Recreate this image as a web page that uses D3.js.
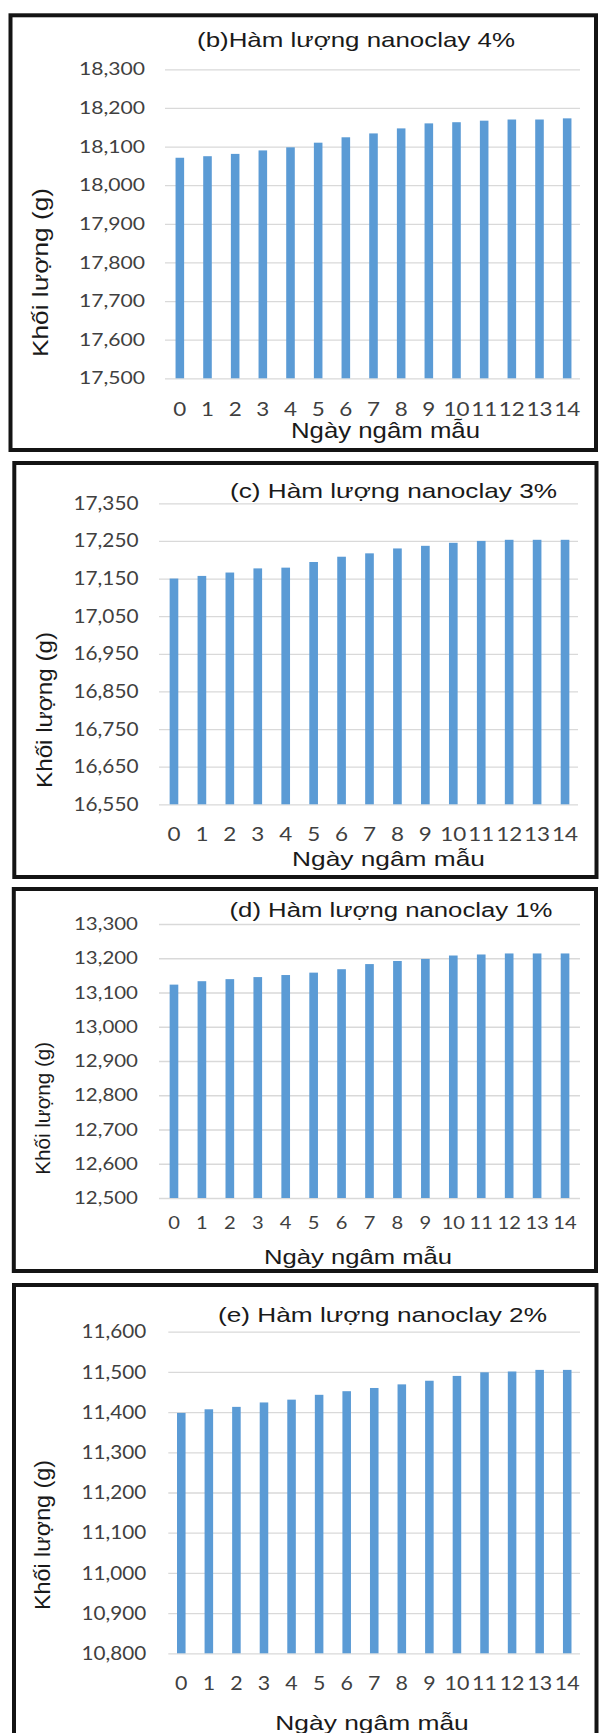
<!DOCTYPE html>
<html>
<head>
<meta charset="utf-8">
<script src="https://cdn.jsdelivr.net/npm/d3@7"></script>
<style>
  html, body { margin: 0; padding: 0; background: #fff; }
  svg { display: block; }
</style>
</head>
<body>
<script>
// Soaking days (x categories)
const days = ["0", "1", "2", "3", "4", "5", "6", "7", "8", "9", "10", "11", "12", "13", "14"];

// Sample mass (g) per soaking day, one series per nanoclay content
const massB = [18071, 18075, 18081, 18090, 18098, 18110, 18124, 18134, 18147, 18160, 18163, 18167, 18170, 18170, 18173];
const massC = [17150, 17157, 17166, 17177, 17179, 17194, 17208, 17217, 17230, 17237, 17245, 17250, 17253, 17253, 17253];
const massD = [13123, 13133, 13139, 13145, 13151, 13158, 13168, 13183, 13192, 13198, 13208, 13211, 13214, 13214, 13214];
const massE = [11398, 11407, 11413, 11424, 11431, 11443, 11452, 11460, 11469, 11478, 11490, 11499, 11501, 11505, 11505];

// Value-axis tick labels
const ticksB = [17500, 17600, 17700, 17800, 17900, 18000, 18100, 18200, 18300];
const ticksC = [16550, 16650, 16750, 16850, 16950, 17050, 17150, 17250, 17350];
const ticksD = [12500, 12600, 12700, 12800, 12900, 13000, 13100, 13200, 13300];
const ticksE = [10800, 10900, 11000, 11100, 11200, 11300, 11400, 11500, 11600];

// Texts
const titleB = "(b)Hàm lượng nanoclay 4%";
const titleC = "(c) Hàm lượng nanoclay 3%";
const titleD = "(d) Hàm lượng nanoclay 1%";
const titleE = "(e) Hàm lượng nanoclay 2%";
const yLabel = "Khối lượng (g)";
const xLabel = "Ngày ngâm mẫu";

// Layout of each framed panel
const layouts = [
  { frame: [10.5, 15.3, 596, 450], left: 165, right: 580, bandL: 166, bandR: 581, top: 69.3, bottom: 378.3,
    title: { cx: 356, y: 46.7, w: 318, fs: 21 },
    xTitle: { cx: 385.5, y: 438, w: 189, fs: 22 },
    yTitle: { x: 48, cy: 272.5, len: 169, fs: 22 },
    yTick: { gap: 20, fs: 17.7, w: 66 }, xTick: { y: 416, fs: 19.5 } },
  { frame: [14.3, 463, 596.5, 877], left: 159, right: 578, bandL: 160, bandR: 579, top: 503.3, bottom: 804.3,
    title: { cx: 393.5, y: 498, w: 327, fs: 21 },
    xTitle: { cx: 388.5, y: 866, w: 193, fs: 21 },
    yTitle: { x: 52, cy: 710, len: 156, fs: 22 },
    yTick: { gap: 20.5, fs: 18.6, w: 65 }, xTick: { y: 841, fs: 19.5 } },
  { frame: [13.8, 889, 596, 1271], left: 159, right: 580, bandL: 160, bandR: 579, top: 924, bottom: 1198,
    title: { cx: 391, y: 917, w: 323, fs: 20 },
    xTitle: { cx: 358, y: 1264, w: 188, fs: 20.5 },
    yTitle: { x: 50, cy: 1108.3, len: 133, fs: 20 },
    yTick: { gap: 21, fs: 17.2, w: 64 }, xTick: { y: 1229, fs: 17.5 } },
  { frame: [14, 1285, 596.5, 1750], left: 168.3, right: 580, bandL: 167.5, bandR: 581, top: 1331.7, bottom: 1653.3,
    title: { cx: 382.5, y: 1321.7, w: 329, fs: 21 },
    xTitle: { cx: 372, y: 1730, w: 193.5, fs: 21 },
    yTitle: { x: 50, cy: 1535, len: 150, fs: 22 },
    yTick: { gap: 22, fs: 19.5, w: 64.7 }, xTick: { y: 1689.7, fs: 18.6 } }
];

const panels = [
  { values: massB, ticks: ticksB, title: titleB },
  { values: massC, ticks: ticksC, title: titleC },
  { values: massD, ticks: ticksD, title: titleD },
  { values: massE, ticks: ticksE, title: titleE }
];

const W = 600, H = 1733;
const svg = d3.select("body").append("svg").attr("width", W).attr("height", H);

const TICK_FONT = "Lato, 'Open Sans', sans-serif";
const TITLE_FONT = "'Liberation Sans', Arial, sans-serif";

function drawPanel(p, cfg) {
  const g = svg.append("g");

  const x = d3.scaleBand().domain(days).range([cfg.bandL, cfg.bandR])
    .paddingInner(0.69).paddingOuter(0.345);
  const y = d3.scaleLinear().domain(d3.extent(p.ticks)).range([cfg.bottom, cfg.top]);

  // horizontal gridlines
  const grid = g.append("g").attr("transform", `translate(${cfg.left},0)`)
    .call(d3.axisLeft(y).tickValues(p.ticks).tickSize(-(cfg.right - cfg.left)).tickFormat(""));
  grid.select(".domain").remove();
  grid.selectAll("line").attr("stroke", "#d9d9d9").attr("stroke-width", 1.3);

  // bars
  g.append("g").selectAll("rect").data(p.values).join("rect")
    .attr("x", (d, i) => x(days[i]))
    .attr("width", x.bandwidth())
    .attr("y", d => y(d))
    .attr("height", d => cfg.bottom - y(d))
    .attr("fill", "#5b9bd5");

  // value axis labels
  const ya = g.append("g").attr("transform", `translate(${cfg.left},0)`)
    .call(d3.axisLeft(y).tickValues(p.ticks).tickSize(0).tickPadding(cfg.yTick.gap).tickFormat(d3.format(",")));
  ya.select(".domain").remove();
  ya.selectAll("text")
    .attr("font-family", TICK_FONT).attr("font-size", cfg.yTick.fs).attr("fill", "#404040")
    .attr("textLength", cfg.yTick.w).attr("lengthAdjust", "spacingAndGlyphs");

  // category axis labels
  const xa = g.append("g").attr("transform", `translate(0,${cfg.bottom})`)
    .call(d3.axisBottom(x).tickSize(0).tickPadding(0));
  xa.select(".domain").remove();
  xa.selectAll("text")
    .attr("dy", null).attr("y", cfg.xTick.y - cfg.bottom)
    .attr("font-family", TICK_FONT).attr("font-size", cfg.xTick.fs).attr("fill", "#404040")
    .each(function () {
      const w = this.getComputedTextLength();
      d3.select(this).attr("textLength", w * 1.15).attr("lengthAdjust", "spacingAndGlyphs");
    });

  // chart title
  g.append("text")
    .attr("x", cfg.title.cx).attr("y", cfg.title.y)
    .attr("text-anchor", "middle")
    .attr("font-family", TITLE_FONT).attr("font-size", cfg.title.fs).attr("fill", "#1a1a1a")
    .attr("textLength", cfg.title.w).attr("lengthAdjust", "spacingAndGlyphs")
    .text(p.title);

  // category axis title
  g.append("text")
    .attr("x", cfg.xTitle.cx).attr("y", cfg.xTitle.y)
    .attr("text-anchor", "middle")
    .attr("font-family", TITLE_FONT).attr("font-size", cfg.xTitle.fs).attr("fill", "#1a1a1a")
    .attr("textLength", cfg.xTitle.w).attr("lengthAdjust", "spacingAndGlyphs")
    .text(xLabel);

  // value axis title
  g.append("text")
    .attr("transform", `translate(${cfg.yTitle.x},${cfg.yTitle.cy}) rotate(-90)`)
    .attr("text-anchor", "middle")
    .attr("font-family", TITLE_FONT).attr("font-size", cfg.yTitle.fs).attr("fill", "#1a1a1a")
    .attr("textLength", cfg.yTitle.len).attr("lengthAdjust", "spacingAndGlyphs")
    .text(yLabel);

  // panel frame
  const [fx0, fy0, fx1, fy1] = cfg.frame;
  g.append("rect")
    .attr("x", fx0).attr("y", fy0).attr("width", fx1 - fx0).attr("height", fy1 - fy0)
    .attr("fill", "none").attr("stroke", "#141414").attr("stroke-width", 4);
}

panels.forEach((p, i) => drawPanel(p, layouts[i]));
</script>
</body>
</html>
